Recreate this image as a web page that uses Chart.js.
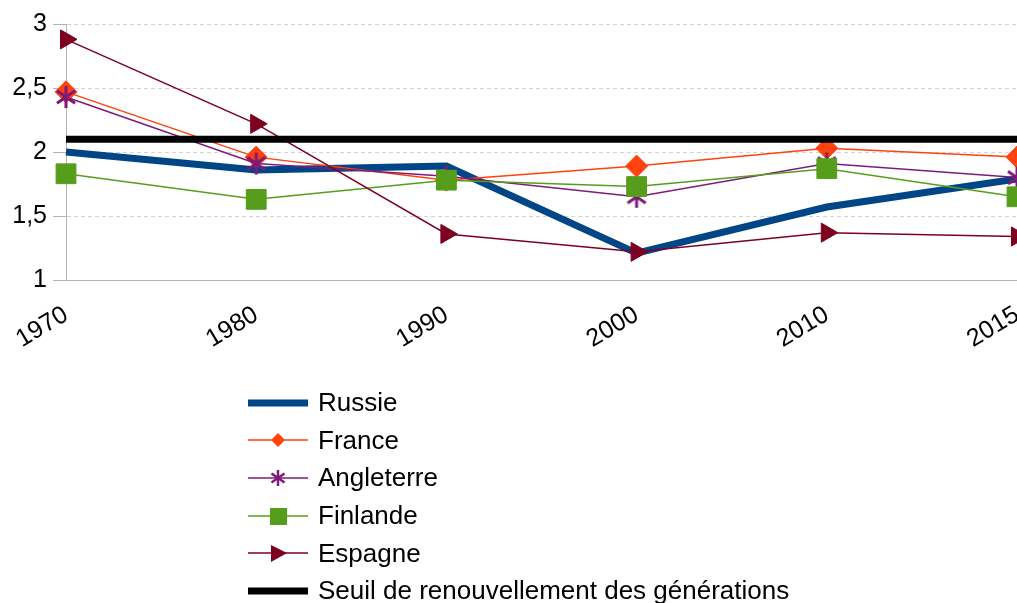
<!DOCTYPE html>
<html lang="fr">
<head>
<meta charset="utf-8">
<title>Indice de fécondité</title>
<script src="https://cdn.jsdelivr.net/npm/chart.js@4"></script>
<style>
  html, body { margin: 0; padding: 0; background: #fff; }
  #wrap { position: relative; width: 1017px; height: 603px; overflow: hidden; }
  #chart { position: absolute; left: 0; top: 0; }
  #legend { position: absolute; left: 248px; top: 384px; font-family: "Liberation Sans", Arial, sans-serif; font-size: 26px; color: #000; }
  .item { display: flex; align-items: center; height: 37.6px; }
  .item svg { width: 60px; height: 24px; margin-right: 10px; }
</style>
</head>
<body>
<div id="wrap">
  <canvas id="chart" width="1017" height="603"></canvas>
  <div id="legend"></div>
</div>
<script>
'use strict';

const YEARS = ['1970', '1980', '1990', '2000', '2010', '2015'];
const Y_TICKS = [1, 1.5, 2, 2.5, 3];

const RUSSIE = [2.0, 1.86, 1.89, 1.21, 1.57, 1.79];
const FRANCE = [2.47, 1.96, 1.78, 1.89, 2.03, 1.96];
const ANGLETERRE = [2.43, 1.91, 1.81, 1.65, 1.91, 1.80];
const FINLANDE = [1.83, 1.63, 1.78, 1.73, 1.87, 1.65];
const ESPAGNE = [2.88, 2.22, 1.36, 1.22, 1.37, 1.34];
const SEUIL = [2.1, 2.1, 2.1, 2.1, 2.1, 2.1];

const FONT = '"Liberation Sans", Arial, sans-serif';
const AXIS_GRAY = '#b3b3b3';

function asteriskCanvas(size, color, lw) {
  const c = document.createElement('canvas');
  c.width = size;
  c.height = size;
  const ctx = c.getContext('2d');
  const r = size / 2 - 1;
  ctx.strokeStyle = color;
  ctx.lineWidth = lw;
  ctx.translate(size / 2, size / 2);
  for (const a of [90, 35, -35]) {
    const rad = a * Math.PI / 180;
    ctx.beginPath();
    ctx.moveTo(-Math.cos(rad) * r, -Math.sin(rad) * r);
    ctx.lineTo(Math.cos(rad) * r, Math.sin(rad) * r);
    ctx.stroke();
  }
  return c;
}

const series = [
  { label: 'Russie', data: RUSSIE, color: '#004586', width: 7, marker: null },
  { label: 'France', data: FRANCE, color: '#ff420e', width: 1.5, marker: 'rectRot' },
  { label: 'Angleterre', data: ANGLETERRE, color: '#7e1a78', width: 1.5, marker: 'asterisk' },
  { label: 'Finlande', data: FINLANDE, color: '#579d1c', width: 1.5, marker: 'rect' },
  { label: 'Espagne', data: ESPAGNE, color: '#7e0021', width: 1.5, marker: 'triangle' },
  { label: 'Seuil de renouvellement des générations', data: SEUIL, color: '#000000', width: 7, marker: null },
];

function pointOpts(s) {
  if (!s.marker) return { pointRadius: 0, pointHoverRadius: 0 };
  if (s.marker === 'asterisk') {
    return { pointStyle: asteriskCanvas(24, s.color, 3), pointRadius: 12 };
  }
  if (s.marker === 'rect') return { pointStyle: 'rect', pointRadius: 14 };
  if (s.marker === 'rectRot') return { pointStyle: 'rectRot', pointRadius: 11 };
  return { pointStyle: 'triangle', pointRotation: 90, pointRadius: 11 };
}

const datasets = series.map((s, i) => Object.assign({
  label: s.label,
  data: s.data,
  borderColor: s.color,
  backgroundColor: s.color,
  pointBackgroundColor: s.color,
  pointBorderColor: s.color,
  pointBorderWidth: 1,
  borderWidth: s.width,
  tension: 0,
  clip: false,
  order: series.length - i,
}, pointOpts(s)));

new Chart(document.getElementById('chart'), {
  type: 'line',
  data: { labels: YEARS, datasets },
  options: {
    responsive: false,
    animation: false,
    layout: { autoPadding: false, padding: { top: 24, right: 0, bottom: 0, left: 0 } },
    plugins: { legend: { display: false }, tooltip: { enabled: false } },
    scales: {
      x: {
        offset: false,
        grid: { display: false },
        border: { display: true, color: AXIS_GRAY, width: 1 },
        ticks: {
          color: '#000',
          font: { family: FONT, size: 25 },
          minRotation: 31,
          maxRotation: 31,
          padding: 12,
        },
        afterFit: s => { s.height = 323; s.paddingLeft = 0; s.paddingRight = 0; },
      },
      y: {
        min: 1,
        max: 3,
        afterBuildTicks: s => { s.ticks = Y_TICKS.map(v => ({ value: v })); },
        grid: { color: '#d4d4d4', tickColor: AXIS_GRAY, tickLength: 13, tickBorderDash: [] },
        border: { display: true, color: AXIS_GRAY, width: 1, dash: [4, 3] },
        ticks: {
          color: '#000',
          font: { family: FONT, size: 25 },
          padding: 6,
          callback: v => String(v).replace('.', ','),
        },
        afterFit: s => { s.width = 66; s.paddingTop = 0; s.paddingBottom = 0; },
      },
    },
  },
});

// legend: line + marker sample, then the label
function legendIcon(s) {
  let mark = '';
  const c = s.color;
  if (s.marker === 'rectRot') mark = `<polygon points="30,5 37,12 30,19 23,12" fill="${c}"/>`;
  if (s.marker === 'rect') mark = `<rect x="22" y="4" width="17" height="17" fill="${c}"/>`;
  if (s.marker === 'triangle') mark = `<polygon points="23,4 39,12 23,21" fill="${c}"/>`;
  if (s.marker === 'asterisk') {
    mark = `<g stroke="${c}" stroke-width="2.5"><line x1="30" y1="4" x2="30" y2="20"/>` +
      `<line x1="23.5" y1="7.5" x2="36.5" y2="16.5"/><line x1="23.5" y1="16.5" x2="36.5" y2="7.5"/></g>`;
  }
  const w = s.marker ? 1.5 : 7;
  return `<svg viewBox="0 0 60 24"><line x1="0" y1="12" x2="60" y2="12" stroke="${c}" stroke-width="${w}"/>${mark}</svg>`;
}

document.getElementById('legend').innerHTML = series
  .map(s => `<div class="item">${legendIcon(s)}<span>${s.label}</span></div>`)
  .join('');
</script>
</body>
</html>
